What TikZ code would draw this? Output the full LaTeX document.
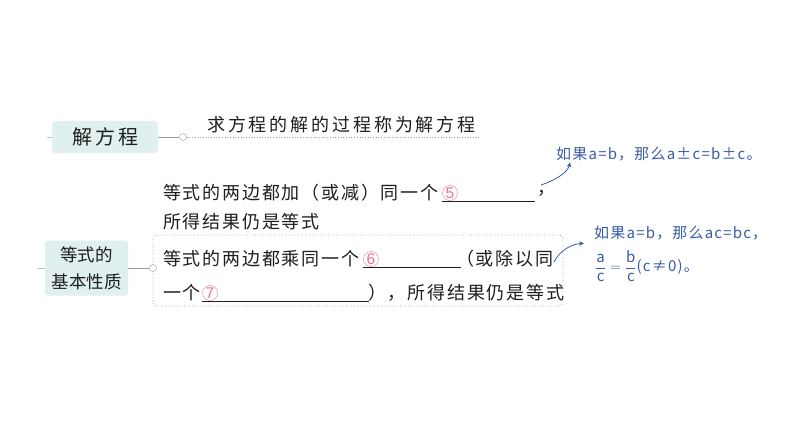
\documentclass[tikz,border=0pt]{standalone}
\usepackage{fontspec}
\setmainfont{Noto Sans CJK SC}
\newfontfamily\cjk[LetterSpace=10]{Noto Sans CJK SC}
\newfontfamily\cjkwide[LetterSpace=16]{Noto Sans CJK SC}
\newfontfamily\hand[LetterSpace=8]{Noto Sans CJK SC}
\newfontfamily\numfont{Liberation Sans}
\usetikzlibrary{arrows.meta}
\definecolor{tealfill}{HTML}{DFF0EE}
\definecolor{pinkc}{HTML}{E7739A}
\definecolor{bluec}{HTML}{3A5CA8}
\definecolor{grayc}{HTML}{9A9A9A}
\definecolor{inkc}{HTML}{1E1E1E}
\tikzset{
  topicbox/.style={fill=tealfill, rounded corners=3pt, inner sep=0pt, align=center, text=inkc},
  bodytext/.style={anchor=west, inner sep=0pt, text=inkc, font=\cjk\fontsize{18}{20}\selectfont},
  numcircle/.style={circle, draw=pinkc, text=pinkc, minimum size=15pt, inner sep=0pt, font=\numfont\fontsize{15.5}{15.5}\selectfont},
  hubdot/.style={circle, draw=grayc, fill=white, minimum size=7pt, inner sep=0pt},
  handnote/.style={text=bluec, anchor=west, inner sep=0pt, align=left, font=\hand\fontsize{15}{18}\selectfont},
  blankline/.style={draw=inkc, line width=0.7pt},
  linkline/.style={draw=grayc, line width=0.8pt},
  handarrow/.style={draw=bluec, line width=0.8pt, -{Stealth[length=5pt,width=4.5pt]}}
}
\begin{document}
\begin{tikzpicture}[x=1pt,y=-1pt]
\useasboundingbox (0,0) rectangle (794,447);
\fill[white] (0,0) rectangle (794,447);

% topic 1
\node[topicbox, minimum width=106pt, minimum height=32pt, font=\fontsize{20}{22}\selectfont] (b1) at (105,137) {解\hspace{3pt}方\hspace{3pt}程};
\coordinate (t1) at (47,137);
\draw[linkline, draw=grayc!60] (t1) -- (b1.west);
\node[hubdot] (c1) at (183,137) {};
\draw[linkline] (b1.east) -- (c1.west);
\coordinate (d1) at (480,137);
\draw[grayc, dotted, line width=0.7pt] (c1.east) -- (d1);
\node[anchor=west, inner sep=0pt, text=inkc, font=\cjkwide\fontsize{18}{20}\selectfont] (s1) at (207,125) {求方程的解的过程称为解方程};

% topic 2
\node[topicbox, minimum width=83pt, minimum height=55pt, font=\fontsize{17.5}{27}\selectfont] (b2) at (86.5,268) {等式的\\基本性质};
\coordinate (t2) at (37,268);
\draw[linkline, draw=grayc!60] (t2) -- (b2.west);
\node[hubdot] (c2) at (153,268) {};
\draw[linkline] (b2.east) -- (c2.west);
\draw[grayc, dotted, line width=0.7pt, rounded corners=4pt] (c2.north) |- (563,235) |- (153,306) -- (c2.south);

% first property
\node[bodytext] (l1) at (163,193) {等式的两边都加（或减）同一个};
\node[numcircle] (n5) at (450,193) {5};
\coordinate (u5) at (535,201);
\draw[blankline] (n5.west |- u5) -- (u5);
\node[bodytext] (cm1) at (537,193) {，};
\node[bodytext] (l2) at (163,222) {所得结果仍是等式};

% second property
\node[bodytext] (l3) at (163,259) {等式的两边都乘同一个};
\node[numcircle] (n6) at (371,259) {6};
\coordinate (u6) at (461,267);
\draw[blankline] (n6.west |- u6) -- (u6);
\node[bodytext] (l3b) at (456,259) {（或除以同};
\node[bodytext] (l4) at (163,293) {一个};
\node[numcircle] (n7) at (210,293) {7};
\coordinate (u7) at (369,301);
\draw[blankline] (n7.west |- u7) -- (u7);
\node[bodytext] (l4b) at (368,293) {），所得结果仍是等式};

% notes
\node[handnote] (m1) at (556,154) {如果a=b，那么a±c=b±c。};
\coordinate (a1) at (541,185);
\draw[handarrow] (a1) .. controls (556,180) and (568,172) .. ([xshift=14pt,yshift=-1pt]m1.south west);

\node[handnote] (m2) at (594,233) {如果a=b，那么ac=bc，};
\node[handnote] (m3) at (595,266) {$\displaystyle\frac{\mbox{a}}{\mbox{c}}=\frac{\mbox{b}}{\mbox{c}}$(c≠0)。};
\coordinate (a2) at (554,262);
\draw[handarrow] (a2) .. controls (560,250) and (572,244) .. ([xshift=-10pt,yshift=-3pt]m2.south west);
\end{tikzpicture}
\end{document}
